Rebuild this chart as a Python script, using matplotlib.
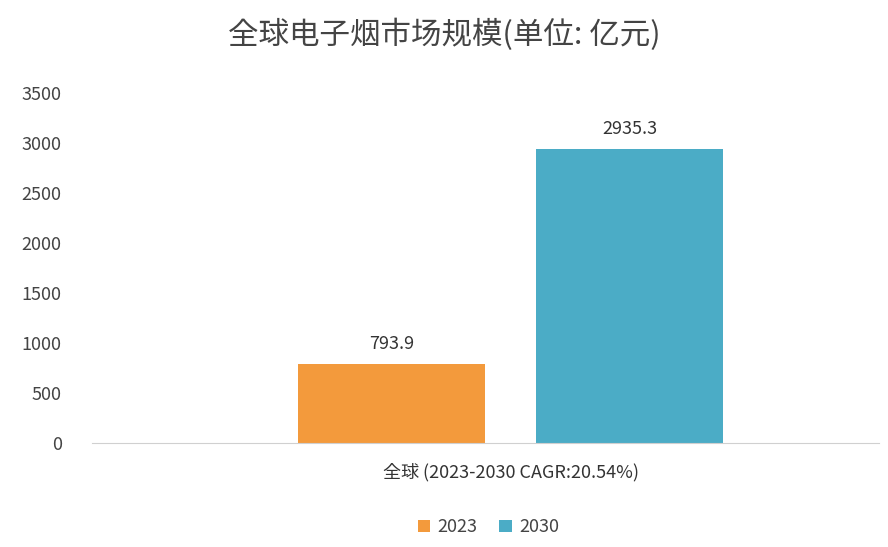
import matplotlib.pyplot as plt
from matplotlib import font_manager

# 找中文字体
cjk = [f for f in font_manager.findSystemFonts() if "CJK" in f or "cjk" in f.lower()]
if cjk:
    font_manager.fontManager.addfont(cjk[0])
    name = font_manager.FontProperties(fname=cjk[0]).get_name()
    plt.rcParams['font.family'] = [name, 'DejaVu Sans']
else:
    plt.rcParams['font.family'] = ['Noto Sans CJK SC', 'DejaVu Sans']

# 数据
category = "全球 (2023-2030 CAGR:20.54%)"
years = ["2023", "2030"]
values = [793.9, 2935.3]
colors = ["#F39A3C", "#4BACC6"]

fig = plt.figure(figsize=(8.88, 5.47), dpi=100)
ax = fig.add_axes([0.104, 0.19, 0.886, 0.64])

center = 0.5315
width = 0.237
offsets = [-0.1515, 0.1515]
for y, v, c, o in zip(years, values, colors, offsets):
    ax.bar(center + o, v, width=width, color=c, label=y)
    ax.text(center + o, v + 110, "%.1f" % v, ha="center", va="bottom",
            fontsize=13, color="#333333")

ax.set_xlim(0, 1)
ax.set_ylim(0, 3500)
ax.set_yticks(range(0, 3501, 500))
ax.set_xticks([center])
ax.set_xticklabels([category], fontsize=13, color="#333333")
ax.tick_params(axis="y", labelsize=13, labelcolor="#444444", length=0, pad=22)
ax.tick_params(axis="x", length=0, pad=14)
for s in ["top", "right", "left"]:
    ax.spines[s].set_visible(False)
ax.spines["bottom"].set_color("#d0d0d0")

fig.suptitle("全球电子烟市场规模(单位: 亿元)", y=0.965, fontsize=22, color="#444444")
fig.legend(loc="lower center", ncol=2, frameon=False, fontsize=13,
           bbox_to_anchor=(0.55, -0.01), handlelength=0.7, handleheight=0.7,
           columnspacing=1.2, handletextpad=0.4, labelcolor="#444444")

fig.savefig("out.png", dpi=100)
